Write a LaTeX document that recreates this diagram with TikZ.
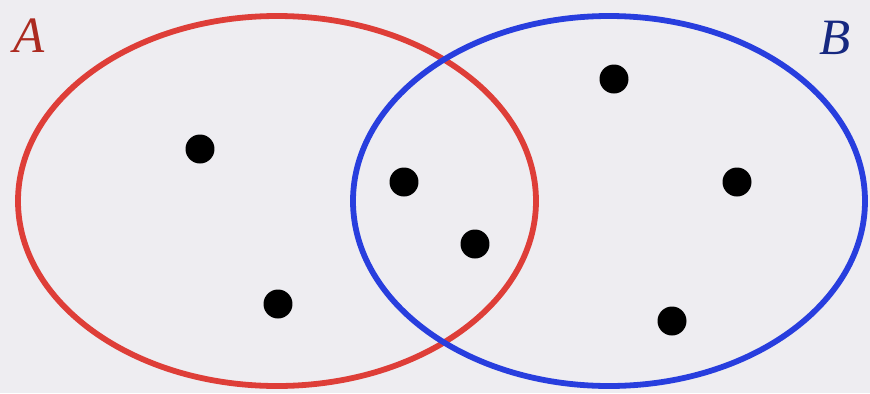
\documentclass[tikz,border=0pt]{standalone}
\usepackage{fontspec}
\usepackage{xcolor}
\usepackage{tikz}
\usetikzlibrary{
  backgrounds,
  positioning
}
\newfontfamily\labfont{Liberation Serif}
\definecolor{paper}{RGB}{238,237,241}
\definecolor{setred}{RGB}{222,62,56}
\definecolor{setblue}{RGB}{40,62,222}
\definecolor{labred}{RGB}{172,42,32}
\definecolor{labblue}{RGB}{22,40,128}
\tikzset{
  setline/.style={
    draw=#1,
    line width=3.3pt
  },
  elem/.style={
    circle,
    fill=black,
    inner sep=0pt,
    minimum size=0.58cm
  },
  setlabel/.style={
    font=\labfont\fontsize{29}{30}\selectfont\itshape,
    text=#1,
    inner sep=0pt
  }
}

\begin{document}
\begin{tikzpicture}[x=0.02cm, y=-0.02cm]
  \fill[paper] (0,0) rectangle (870,393);
  \useasboundingbox (0,0) rectangle (870,393);

  % the two sets
  \draw[setline=setred] (277,201) ellipse [x radius=259, y radius=185];
  \draw[setline=setblue] (609,201) ellipse [x radius=256, y radius=185];

  \node[setlabel=labred] (labA) at (29,36) {A};
  \node[setlabel=labblue] (labB) at (835,38) {B};

  % elements
  \node[elem] (a1) at (200,149) {};
  \node[elem] (a2) at (278,304) {};
  \node[elem] (ab1) at (404,182) {};
  \node[elem] (ab2) at (475,244) {};
  \node[elem] (b1) at (614,79) {};
  \node[elem] (b2) at (737,182) {};
  \node[elem] (b3) at (672,321) {};
\end{tikzpicture}
\end{document}
